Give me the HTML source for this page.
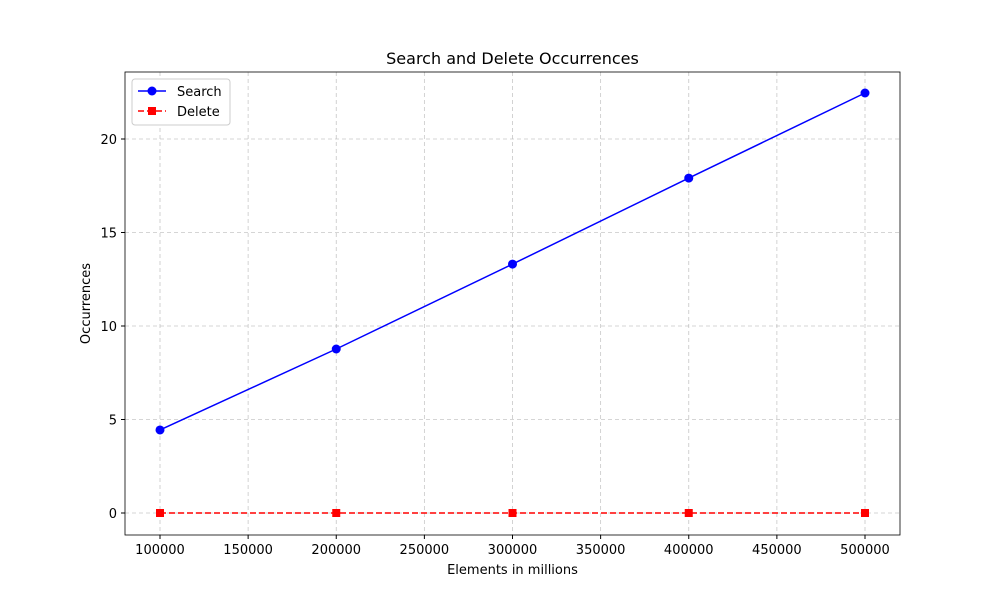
<!DOCTYPE html>
<html><head><meta charset="utf-8"><style>
body{margin:0;background:#fff;font-family:"DejaVu Sans","Liberation Sans",sans-serif;}
</style></head><body>
<svg id="chart" width="1000" height="600" xmlns="http://www.w3.org/2000/svg"></svg>
<script>
const categories=[100000,200000,300000,400000,500000];
const searchValues=[4.44,8.77,13.31,17.91,22.46];
const deleteValues=[0,0,0,0,0];
const xTicks=[100000,150000,200000,250000,300000,350000,400000,450000,500000];
const yTicks=[0,5,10,15,20];
const L=125,R=900,T=72,B=535;
const xMin=100000-(35/176.25)*100000, xMax=500000+(35/176.25)*100000;
const yMin=-(535-513)/18.7, yMax=(513-72)/18.7;
function xs(v){return L+(v-xMin)/(xMax-xMin)*(R-L);}
function ys(v){return B-(v-yMin)/(yMax-yMin)*(B-T);}
const svg=document.getElementById('chart');
const NS='http://www.w3.org/2000/svg';
function mk(tag,attrs,parent){const e=document.createElementNS(NS,tag);for(const k in attrs)e.setAttribute(k,attrs[k]);(parent||svg).appendChild(e);return e;}
// grid
xTicks.forEach(t=>{const g=mk('line',{x1:xs(t),x2:xs(t),y1:T,y2:B,stroke:'#b0b0b0','stroke-width':0.8,'stroke-dasharray':'4,3',opacity:0.7});


const tk=mk('line',{x1:xs(t),x2:xs(t),y1:B,y2:B+4,stroke:'#000'});


const tl=mk('text',{x:xs(t),y:B+19,'text-anchor':'middle','font-size':13});tl.textContent=t;

});
yTicks.forEach(t=>{const g=mk('line',{x1:L,x2:R,y1:ys(t),y2:ys(t),stroke:'#b0b0b0','stroke-width':0.8,'stroke-dasharray':'4,3',opacity:0.7});


const tk=mk('line',{x1:L-4,x2:L,y1:ys(t),y2:ys(t),stroke:'#000'});


const tl=mk('text',{x:L-8,y:ys(t)+5,'text-anchor':'end','font-size':13});tl.textContent=t;

});
// series
const sp=mk('polyline',{points:categories.map((c,i)=>xs(c)+','+ys(searchValues[i])).join(' '),fill:'none',stroke:'#0000ff','stroke-width':1.5});


categories.forEach((c,i)=>{const m=mk('circle',{cx:xs(c),cy:ys(searchValues[i]),r:4.5,fill:'#0000ff'});

});
const dp=mk('polyline',{points:categories.map((c,i)=>xs(c)+','+ys(deleteValues[i])).join(' '),fill:'none',stroke:'#ff0000','stroke-width':1.5,'stroke-dasharray':'6,3'});


categories.forEach((c,i)=>{const m=mk('rect',{x:xs(c)-4,y:ys(deleteValues[i])-4,width:8,height:8,fill:'#ff0000'});

});
// frame
const fr=mk('rect',{x:L,y:T,width:R-L,height:B-T,fill:'none',stroke:'#000','stroke-width':0.8});


// titles
const ti=mk('text',{x:(L+R)/2,y:64,'text-anchor':'middle','font-size':16});ti.textContent='Search and Delete Occurrences';


const xt=mk('text',{x:(L+R)/2,y:574,'text-anchor':'middle','font-size':13});xt.textContent='Elements in millions';


const yt=mk('text',{x:90,y:(T+B)/2,'text-anchor':'middle','font-size':13,transform:'rotate(-90 90 '+((T+B)/2)+')'});yt.textContent='Occurrences';


// legend
const lg=mk('g',{});


mk('rect',{x:132,y:79,width:98,height:46,rx:3,fill:'#fff',stroke:'#ccc'},lg);
mk('line',{x1:138,x2:166,y1:91,y2:91,stroke:'#0000ff','stroke-width':1.5},lg);
mk('circle',{cx:152,cy:91,r:4.5,fill:'#0000ff'},lg);
const l1=mk('text',{x:177,y:96,'font-size':13},lg);l1.textContent='Search';


mk('line',{x1:138,x2:166,y1:111,y2:111,stroke:'#ff0000','stroke-width':1.5,'stroke-dasharray':'6,3'},lg);
mk('rect',{x:148,y:107,width:8,height:8,fill:'#ff0000'},lg);
const l2=mk('text',{x:177,y:116,'font-size':13},lg);l2.textContent='Delete';


</script>
</body></html>
